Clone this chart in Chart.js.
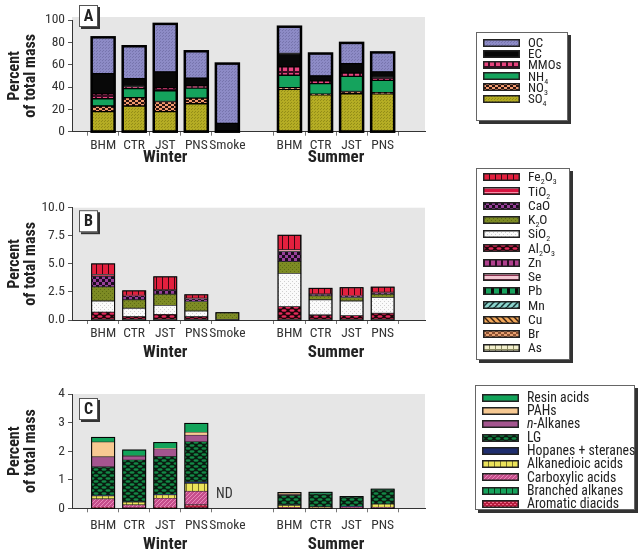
<!DOCTYPE html>
<html>
<head>
<meta charset="utf-8">
<script src="https://cdn.jsdelivr.net/npm/chart.js@4.4.1/dist/chart.umd.min.js"></script>
<style>
  body { margin:0; width:642px; height:554px; position:relative; background:#fff; overflow:hidden;
         font-family:"Roboto Condensed","Liberation Sans Narrow",sans-serif; }
  .panel { position:absolute; left:0; }
  .legend { position:absolute; background:#fff; border:1px solid #666; box-shadow:3px 3px 0 #333;
            box-sizing:border-box; padding-left:6px; }
  .legend .row { display:flex; align-items:center; color:#222; white-space:nowrap; line-height:1; }
  .legend canvas { margin-right:8px; flex:none; }
  .legend sub { font-size:8px; line-height:0; vertical-align:-3px; }
</style>
</head>
<body>
<canvas class="panel" id="chartA" width="642" height="165" style="top:0"></canvas>
<canvas class="panel" id="chartB" width="642" height="210" style="top:165px"></canvas>
<canvas class="panel" id="chartC" width="642" height="179" style="top:375px"></canvas>
<div class="legend" id="legendA" style="left:476px;top:32px;width:92px;height:89px;padding-top:4px"></div>
<div class="legend" id="legendB" style="left:476px;top:168px;width:94px;height:192px;padding-top:1px"></div>
<div class="legend" id="legendC" style="left:475px;top:385px;width:160px;height:125px;padding-top:5px"></div>
<script>
// Sites (winter 5, summer 4) and season groups
const sites = ['BHM', 'CTR', 'JST', 'PNS', 'Smoke', 'BHM', 'CTR', 'JST', 'PNS'];
const seasons = ['Winter', 'Summer'];
const seasonSizes = [5, 4];

// Panel A - bulk composition (legend order, top to bottom)
const namesA = ['OC', 'EC', 'MMOs', 'NH<sub>4</sub>', 'NO<sub>3</sub>', 'SO<sub>4</sub>'];
const oc   = [32.5, 29, 43, 24, 53.5, 24, 20, 18.5, 17.5];
const ec   = [18, 7, 14, 7, 7.5, 12, 4.5, 8.5, 5];
const mmos = [4.5, 2, 3, 2, 0, 7.5, 2.5, 3, 2.5];
const nh4  = [6.5, 8, 9.5, 9, 0, 11, 9.5, 13.5, 11];
const no3  = [5, 7.5, 9, 5, 0, 1.5, 0.5, 2, 1];
const so4  = [18, 23, 18, 25, 0, 38, 33, 34, 34];
const ticksA = [0, 20, 40, 60, 80, 100];

// Panel B - metal oxides and trace elements
const namesB = ['Fe<sub>2</sub>O<sub>3</sub>', 'TiO<sub>2</sub>', 'CaO', 'K<sub>2</sub>O', 'SiO<sub>2</sub>',
                'Al<sub>2</sub>O<sub>3</sub>', 'Zn', 'Se', 'Pb', 'Mn', 'Cu', 'Br', 'As'];
const fe2o3 = [0.95, 0.4, 1.15, 0.3, 0, 1.3, 0.5, 0.7, 0.45];
const tio2  = [0.15, 0.05, 0.05, 0.05, 0, 0.15, 0.02, 0.03, 0.03];
const cao   = [0.95, 0.35, 0.35, 0.25, 0, 0.9, 0.15, 0.15, 0.15];
const k2o   = [1.25, 0.75, 1.0, 0.85, 0.65, 1.05, 0.35, 0.3, 0.3];
const sio2  = [1.0, 0.75, 0.8, 0.5, 0, 2.95, 1.35, 1.3, 1.4];
const al2o3 = [0.7, 0.3, 0.5, 0.3, 0, 1.2, 0.45, 0.4, 0.6];
const zn = [0, 0, 0, 0, 0, 0, 0, 0, 0];
const se = [0, 0, 0, 0, 0, 0, 0, 0, 0];
const pb = [0, 0, 0, 0, 0, 0, 0, 0, 0];
const mn = [0, 0, 0, 0, 0, 0, 0, 0, 0];
const cu = [0, 0, 0, 0, 0, 0, 0, 0, 0];
const br = [0, 0, 0, 0, 0, 0, 0, 0, 0];
const as = [0, 0, 0, 0, 0, 0, 0, 0, 0];
const ticksB = [0, 2.5, 5, 7.5, 10];

// Panel C - organic markers (Smoke not determined)
const namesC = ['Resin acids', 'PAHs', '<i>n</i>-Alkanes', 'LG', 'Hopanes + steranes', 'Alkanedioic acids',
                'Carboxylic acids', 'Branched alkanes', 'Aromatic diacids'];
const resin       = [0.16, 0.2, 0.2, 0.31, null, 0.01, 0.06, 0.01, 0.03];
const pahs        = [0.52, 0.02, 0.02, 0.1, null, 0.06, 0, 0, 0];
const nAlkanes    = [0.35, 0.13, 0.27, 0.23, null, 0.03, 0.01, 0, 0.01];
const lg          = [1.0, 1.46, 1.32, 1.4, null, 0.33, 0.44, 0.33, 0.48];
const hopanes     = [0.02, 0.02, 0.02, 0.06, null, 0.02, 0.01, 0.02, 0.01];
const alkanedioic = [0.1, 0.09, 0.12, 0.27, null, 0.07, 0.02, 0, 0.1];
const carboxylic  = [0.3, 0.1, 0.32, 0.48, null, 0.02, 0.02, 0.03, 0.04];
const branched    = [0, 0, 0, 0, null, 0, 0, 0, 0];
const aromatic    = [0.03, 0.02, 0.03, 0.12, null, 0.01, 0, 0.02, 0];
const ticksC = [0, 1, 2, 3, 4];

const FONT = '"Roboto Condensed", "Liberation Sans Narrow", sans-serif';
Chart.defaults.font.family = FONT;
Chart.defaults.color = '#222';

// Small repeating tiles used as bar fills
function tile(w, h, bg, paint) {
    const c = document.createElement('canvas');
    c.width = w; c.height = h;
    const g = c.getContext('2d');
    g.fillStyle = bg;
    g.fillRect(0, 0, w, h);
    if (paint) paint(g);
    return g.createPattern(c, 'repeat');
}
function rects(fg, list) {
    return g => { g.fillStyle = fg; list.forEach(r => g.fillRect(r[0], r[1], r[2], r[3])); };
}
function ovals(fg, list) {
    return g => {
        g.fillStyle = fg;
        list.forEach(o => { g.beginPath(); g.ellipse(o[0], o[1], o[2], o[3], 0, 0, Math.PI * 2); g.fill(); });
    };
}
function diag(fg, lw, s, back) {
    return g => {
        g.strokeStyle = fg; g.lineWidth = lw;
        [-s, 0, s].forEach(o => {
            g.beginPath();
            if (back) { g.moveTo(o, 0); g.lineTo(o + s, s); } else { g.moveTo(o, s); g.lineTo(o + s, 0); }
            g.stroke();
        });
    };
}
const hexDots = (fg) => ovals(fg, [[4, 1.5, 2.6, 1.3], [0, 4.5, 2.6, 1.3], [8, 4.5, 2.6, 1.3]]);

const fillsA = [
    tile(3, 3, '#8d8bc6', rects('#7775ad', [[0, 0, 1, 1], [1, 2, 1, 1]])),
    '#080808',
    tile(6, 6, '#3a0c22', rects('#e8447e', [[1, 1, 4, 4]])),
    '#15a35d',
    tile(6, 4, '#f39a6e', rects('#2a1410', [[0, 0, 3, 2], [3, 2, 3, 2]])),
    tile(3, 3, '#b5ad24', rects('#938d18', [[0, 0, 1, 1], [2, 1, 1, 1]]))
];
const fillsB = [
    tile(6, 6, '#e3203e', rects('#3a0510', [[0, 0, 1, 6]])),
    tile(4, 4, '#d81440', rects('#f690a8', [[0, 1, 4, 1]])),
    tile(6, 6, '#98409a', rects('#1c0c1e', [[0, 0, 3, 3], [3, 3, 3, 3]])),
    tile(4, 4, '#7d8b24', rects('#5d6b14', [[0, 0, 1, 1], [2, 2, 1, 1]])),
    tile(4, 4, '#fafafa', rects('#cfcfcf', [[0, 0, 1, 1], [2, 2, 1, 1]])),
    tile(8, 6, '#1c0508', hexDots('#e42a5c')),
    tile(6, 6, '#b0408e', rects('#2a0a22', [[0, 0, 2, 6]])),
    tile(4, 4, '#f4c6d2', rects('#8a3050', [[0, 2, 4, 1]])),
    tile(8, 6, '#17a35d', rects('#0a0a0a', [[0, 0, 3, 6]])),
    tile(6, 6, '#8cd4cc', diag('#123030', 1.5, 6, false)),
    tile(6, 6, '#f2a85a', diag('#3a2010', 1.5, 6, true)),
    tile(6, 4, '#e8a070', rects('#8a5030', [[0, 0, 3, 2], [3, 2, 3, 2]])),
    tile(6, 5, '#f2efcc', rects('#8a8a60', [[0, 0, 6, 1], [0, 0, 1, 5]]))
];
const fillsC = [
    '#12a35a',
    '#f7c992',
    '#a4558f',
    tile(8, 6, '#0a1a10', hexDots('#138a46')),
    '#1e2d6e',
    tile(6, 4, '#ebe35a', rects('#7a7428', [[0, 0, 1, 4]])),
    tile(4, 4, '#c64e8c', diag('#e88ab8', 1, 4, false)),
    tile(6, 6, '#17a35d', rects('#0a3a1a', [[0, 0, 1, 6]])),
    tile(4, 4, '#b71c3e', rects('#f06a8a', [[0, 0, 2, 1], [2, 2, 2, 1]]))
];

// Winter sites take slots 0-4, one empty slot, summer sites follow
function xPos(i) {
    return i < seasonSizes[0] ? i : i + 1;
}
function siteLabel(v) {
    if (v === seasonSizes[0]) return '';
    const i = v < seasonSizes[0] ? v : v - 1;
    return sites[i] || '';
}
function stripTags(s) {
    return s.replace(/<[^>]+>/g, '');
}

// Gray plot area, bar outlines, ND label, panel letter and season names
const panelDecor = {
    id: 'panelDecor',
    beforeDraw(chart, args, o) {
        const a = chart.chartArea, ctx = chart.ctx;
        ctx.save();
        ctx.fillStyle = '#e6e6e6';
        ctx.fillRect(a.left, a.top - o.grayExtra, a.right - a.left, a.bottom - a.top + o.grayExtra);
        ctx.restore();
    },
    afterDatasetsDraw(chart, args, o) {
        const ctx = chart.ctx;
        const y0 = chart.scales.y.getPixelForValue(0);
        const metas = chart.getSortedVisibleDatasetMetas();
        ctx.save();
        sites.forEach((s, i) => {
            let top = null, x = null, w = 0, allNull = true;
            metas.forEach(m => {
                const v = chart.data.datasets[m.index].data[i].y;
                const el = m.data[i];
                if (v !== null) allNull = false;
                if (v) { top = top === null ? el.y : Math.min(top, el.y); x = el.x; w = el.width; }
            });
            if (allNull) {
                ctx.fillStyle = '#333';
                ctx.font = '14px ' + FONT;
                ctx.textAlign = 'center';
                ctx.textBaseline = 'middle';
                ctx.fillText('ND', chart.scales.x.getPixelForValue(xPos(i)) - 3, y0 - 14);
                return;
            }
            if (top === null) return;
            ctx.strokeStyle = '#000';
            ctx.lineWidth = o.outline;
            ctx.strokeRect(x - w / 2, top, w, y0 - top);
        });
        ctx.restore();
    },
    afterDraw(chart, args, o) {
        const ctx = chart.ctx, a = chart.chartArea, xs = chart.scales.x;
        ctx.save();
        // panel letter box
        const bx = a.left + 7, by = a.top + o.letterDy;
        ctx.fillStyle = '#333';
        ctx.fillRect(bx + 2, by + 2, 19, 22);
        ctx.fillStyle = '#fff';
        ctx.fillRect(bx, by, 19, 22);
        ctx.strokeStyle = '#555';
        ctx.lineWidth = 1;
        ctx.strokeRect(bx + 0.5, by + 0.5, 18, 21);
        ctx.fillStyle = '#222';
        ctx.font = 'bold 16px ' + FONT;
        ctx.textAlign = 'center';
        ctx.textBaseline = 'middle';
        ctx.fillText(o.letter, bx + 9.5, by + 11.5);
        // season names under the site labels
        ctx.font = 'bold 17px ' + FONT;
        let start = 0;
        seasons.forEach((name, k) => {
            const first = xPos(start), last = xPos(start + seasonSizes[k] - 1);
            ctx.fillText(name, xs.getPixelForValue((first + last) / 2), o.groupY);
            start += seasonSizes[k];
        });
        ctx.restore();
    }
};

function buildChart(canvasId, names, series, fills, ticks, o) {
    const datasets = names.map((n, k) => ({
        label: stripTags(n),
        data: series[k].map((v, i) => ({ x: xPos(i), y: v })),
        backgroundColor: fills[k],
        borderColor: o.border,
        borderWidth: o.borderWidth,
        borderSkipped: false,
        barThickness: 23
    })).reverse();

    return new Chart(document.getElementById(canvasId), {
        type: 'bar',
        data: { datasets: datasets },
        options: {
            responsive: false,
            animation: false,
            layout: { padding: { top: o.top, left: 0, right: 217, bottom: 0 } },
            plugins: {
                legend: { display: false },
                tooltip: { enabled: false },
                panelDecor: o
            },
            scales: {
                x: {
                    type: 'linear',
                    stacked: true,
                    min: -0.434,
                    max: 9.795,
                    afterFit: s => { s.height = o.xHeight; },
                    grid: {
                        drawOnChartArea: false,
                        tickLength: 4,
                        color: c => (c.tick && c.tick.value === seasonSizes[0]) ? 'rgba(0,0,0,0)' : '#777'
                    },
                    border: { color: '#333', width: 1 },
                    ticks: {
                        stepSize: 1,
                        includeBounds: false,
                        autoSkip: false,
                        maxRotation: 0,
                        padding: o.xPad,
                        font: { size: 13.5 },
                        color: '#333',
                        callback: v => siteLabel(v)
                    }
                },
                y: {
                    stacked: true,
                    min: ticks[0],
                    max: ticks[ticks.length - 1],
                    afterFit: s => { s.width = 72; },
                    afterBuildTicks: s => { s.ticks = ticks.map(v => ({ value: v })); },
                    grid: { drawOnChartArea: false, tickLength: 4, color: '#555' },
                    border: { color: '#333', width: 1 },
                    ticks: {
                        padding: 3,
                        font: { size: 13.5 },
                        color: '#333',
                        callback: v => o.fmt(v)
                    },
                    title: {
                        display: true,
                        text: ['Percent', 'of total mass'],
                        font: { size: 16, weight: 'bold', lineHeight: 1.0 },
                        padding: { top: 7, bottom: 0 },
                        color: '#222'
                    }
                }
            }
        },
        plugins: [panelDecor]
    });
}

// HTML legend boxes built from the same names and fills
function buildLegend(id, names, fills, rowH, size) {
    const box = document.getElementById(id);
    names.forEach((n, k) => {
        const row = document.createElement('div');
        row.className = 'row';
        row.style.height = rowH + 'px';
        row.style.fontSize = size + 'px';
        const sw = document.createElement('canvas');
        sw.width = 37; sw.height = 8;
        const g = sw.getContext('2d');
        g.fillStyle = fills[k];
        g.fillRect(0, 0, 37, 8);
        g.strokeStyle = '#222';
        g.lineWidth = 1.5;
        g.strokeRect(0.75, 0.75, 35.5, 6.5);
        const t = document.createElement('span');
        t.innerHTML = n;
        row.append(sw, t);
        box.append(row);
    });
}

buildChart('chartA', namesA, [oc, ec, mmos, nh4, no3, so4], fillsA, ticksA, {
    top: 20, xHeight: 33.3, xPad: 2, grayExtra: 3, border: '#000', borderWidth: 1, outline: 2.5,
    letter: 'A', letterDy: -15, groupY: 158, fmt: v => String(v)
});
buildChart('chartB', namesB, [fe2o3, tio2, cao, k2o, sio2, al2o3, zn, se, pb, mn, cu, br, as], fillsB, ticksB, {
    top: 42.7, xHeight: 55, xPad: 2, grayExtra: 0, border: '#2a2a2a', borderWidth: 0.8, outline: 1,
    letter: 'B', letterDy: 2.5, groupY: 188, fmt: v => v.toFixed(1)
});
buildChart('chartC', namesC, [resin, pahs, nAlkanes, lg, hopanes, alkanedioic, carboxylic, branched, aromatic], fillsC, ticksC, {
    top: 19, xHeight: 45.7, xPad: 5, grayExtra: 0, border: '#2a2a2a', borderWidth: 0.6, outline: 1,
    letter: 'C', letterDy: 4, groupY: 170, fmt: v => String(v)
});

buildLegend('legendA', namesA, fillsA, 11.2, 13);
buildLegend('legendB', namesB, fillsB, 14.25, 13.5);
buildLegend('legendC', namesC, fillsC, 13.3, 13.8);
</script>
</body>
</html>
